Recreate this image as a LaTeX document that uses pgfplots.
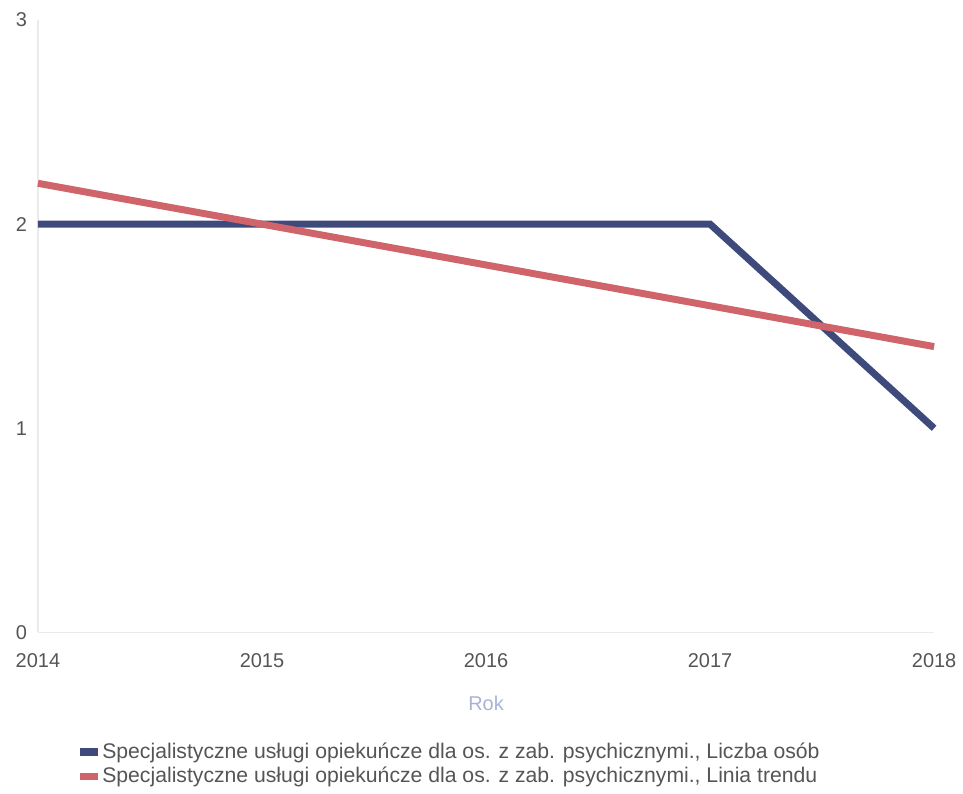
\documentclass[border=0pt]{standalone}
\usepackage{pgfplots}
\pgfplotsset{compat=1.18}
\usepackage{fontspec}
\setmainfont{Liberation Sans}
\definecolor{cblue}{HTML}{3E4A7C}
\definecolor{cred}{HTML}{D0646B}
\definecolor{ctick}{HTML}{555555}
\definecolor{clab}{HTML}{A9B3D6}
\begin{document}
\begin{tikzpicture}
\begin{axis}[
  at={(0,0)}, anchor=south west,
  scale only axis, width=448.5pt, height=306.5pt,
  xmin=2014, xmax=2018, ymin=0, ymax=3,
  xtick={2014,2015,2016,2017,2018},
  ytick={0,1,2,3},
  xticklabel style={/pgf/number format/1000 sep={}, font=\fontsize{10}{12}\selectfont, text=ctick},
  yticklabel style={font=\fontsize{10}{12}\selectfont, text=ctick},
  /pgf/number format/assume math mode=true,
  /pgf/number format/1000 sep={},
  major tick length=0pt,
  axis x line*=bottom, axis y line*=left,
  axis line style={black!8, line width=0.8pt},
  xticklabel shift=7pt,
  yticklabel shift=2pt,
  xlabel={Rok}, xlabel style={font=\fontsize{10}{12}\selectfont, text=clab, yshift=-7.5pt},
  clip=false,
  legend style={at={(18pt,-51pt)}, anchor=north west, draw=none, fill=none,
    font=\fontsize{10.6}{12}\selectfont, text=ctick, row sep=-1pt,
    /tikz/every even column/.append style={column sep=1pt}},
  legend cell align=left,
  legend image code/.code={\fill[#1, draw=none] (0pt,-1.9pt) rectangle (9pt,1.9pt);},
]
\addplot[cblue, line width=3.5pt] coordinates {(2014,2) (2015,2) (2016,2) (2017,2) (2018,1)};
\addlegendentry{Specjalistyczne usługi opiekuńcze dla os. z zab. psychicznymi., Liczba osób}
\addplot[cred, line width=3.5pt] coordinates {(2014,2.2) (2015,2.0) (2016,1.8) (2017,1.6) (2018,1.4)};
\addlegendentry{Specjalistyczne usługi opiekuńcze dla os. z zab. psychicznymi., Linia trendu}
\end{axis}
\useasboundingbox (-19pt,-78.5pt) rectangle (462.5pt,316.5pt);
\end{tikzpicture}
\end{document}
